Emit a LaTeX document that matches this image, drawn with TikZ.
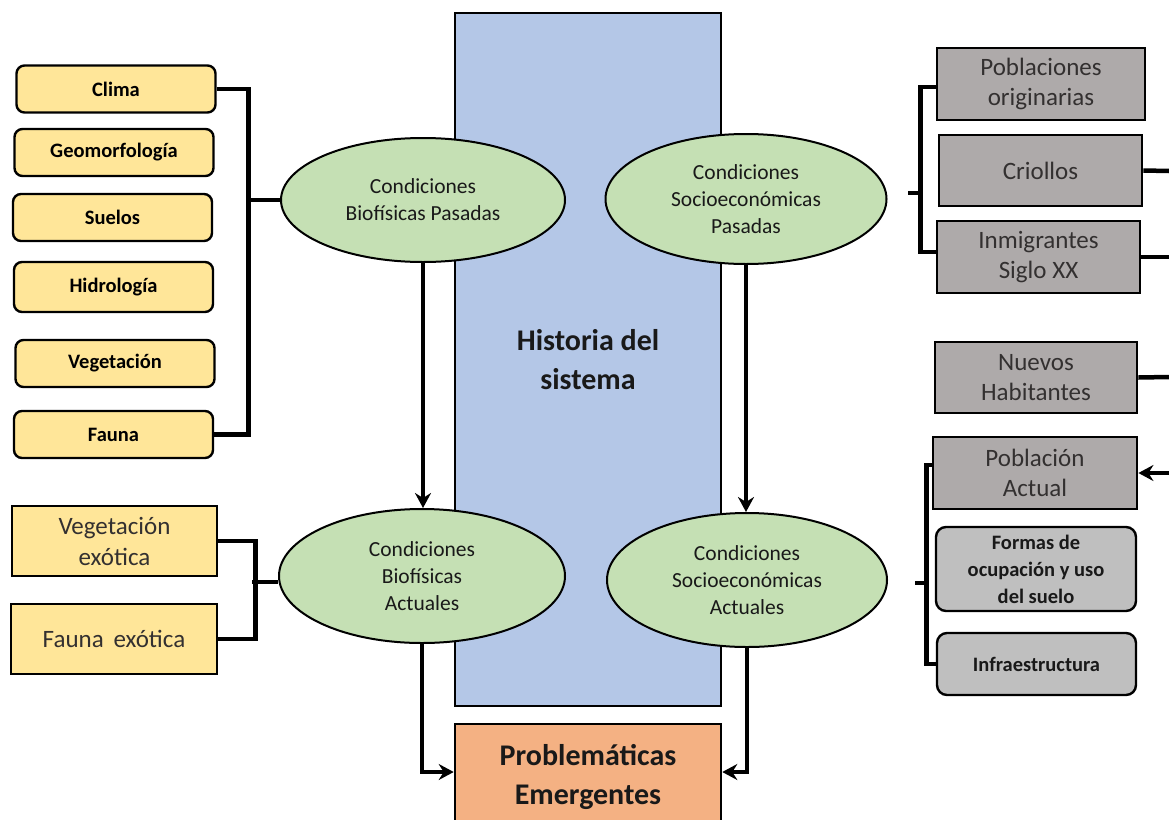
\documentclass[tikz,border=0pt]{standalone}
\usepackage{fontspec}
\setmainfont{Carlito}
\usetikzlibrary{shapes.geometric,arrows.meta}
\definecolor{yel}{HTML}{FFE699}
\definecolor{grn}{HTML}{C5E0B4}
\definecolor{blu}{HTML}{B4C7E7}
\definecolor{org}{HTML}{F4B183}
\definecolor{gryd}{HTML}{AEAAAA}
\definecolor{gryl}{HTML}{BFBFBF}
\definecolor{txtg}{HTML}{333030}
\begin{document}
\begin{tikzpicture}[x=1pt,y=-1pt,
  ybox/.style={draw, line width=2.4pt, fill=yel, rounded corners=8pt, inner sep=0pt,
    minimum width=199pt, minimum height=47pt, font=\fontsize{20.5}{24}\selectfont\bfseries},
  ybig/.style={draw, line width=2.6pt, fill=yel, inner sep=0pt, align=center,
    minimum height=70pt, font=\fontsize{25}{31}\selectfont, text=txtg},
  cond/.style={ellipse, draw, line width=2pt, fill=grn, inner sep=0pt, align=center,
    font=\fontsize{21.5}{27}\selectfont, text=black!90},
  gbox/.style={draw, line width=2.8pt, fill=gryd, inner sep=0pt, align=center,
    minimum height=72pt, font=\fontsize{25}{30}\selectfont, text=txtg},
  gr/.style={draw, line width=2.4pt, fill=gryl, rounded corners=10pt, inner sep=0pt, align=center,
    minimum width=200pt, font=\fontsize{20.5}{27}\selectfont\bfseries, text=black!90},
  bigbox/.style={draw, line width=2.6pt, inner sep=0pt, align=center, minimum width=266pt,
    font=\fontsize{30}{39}\selectfont\bfseries, text=black!90},
  link/.style={line width=4.5pt},
  arr/.style={line width=4pt, -{Stealth[length=15pt,width=16pt,inset=5pt]}}]

\clip (0,0) rectangle (1169,819);
\useasboundingbox (0,0) rectangle (1169,819);

% central column
\node[bigbox, fill=blu, minimum height=693pt] (hist) at (588,359.5) {Historia del\\sistema};
\node[bigbox, fill=org, minimum height=106pt] (prob) at (588,777) {Problemáticas\\Emergentes};

% conditions
\node[cond, minimum width=284pt, minimum height=124pt] (bp) at (423,200) {Condiciones\\Biofísicas Pasadas};
\node[cond, minimum width=281pt, minimum height=130pt] (sp) at (746,199) {Condiciones\\Socioeconómicas\\Pasadas};
\node[cond, minimum width=286pt, minimum height=134pt] (ba) at (422,576) {Condiciones\\Biofísicas\\Actuales};
\node[cond, minimum width=280pt, minimum height=134pt] (sa) at (747,580) {Condiciones\\Socioeconómicas\\Actuales};

\draw[arr] (bp.south) -- (bp.south |- ba.north);
\draw[arr] (sp.south) -- (sp.south |- sa.north);
\draw[arr] (ba.south) |- ([yshift=5pt]prob.west);
\draw[arr] (sa.south) |- ([yshift=5pt]prob.east);

% past biophysical factors
\node[ybox] (clima) at (116,89) {Clima};
\node[ybox] (geo) at (114,152.5) {Geomorfología};
\node[ybox] (suelos) at (112.5,217.5) {Suelos};
\node[ybox, minimum height=50pt] (hidro) at (113.5,287) {Hidrología};
\node[ybox] (veg) at (115,363.5) {Vegetación};
\node[ybox] (fauna) at (113.5,434.5) {Fauna};
\draw[link] (clima.east) -- ++(32,0) |- (fauna.east);
\draw[link] (bp.west) -- ++(-34,0);

% current biophysical factors
\node[ybig, minimum width=205pt] (vegex) at (114.5,541) {Vegetación\\exótica};
\node[ybig, minimum width=206pt] (faunex) at (114,639) {Fauna\, exótica};
\draw[link] (vegex.east) -- ++(37,0) |- (faunex.east);
\draw[link] ([yshift=-6pt]ba.west) -- ++(-26,0);

% past population
\node[gbox, minimum width=208pt] (pobo) at (1041,84) {Poblaciones\\originarias};
\node[gbox, minimum width=203pt, minimum height=71pt] (crio) at (1040.5,170.5) {Criollos};
\node[gbox, minimum width=203pt] (inmi) at (1038.5,257) {Inmigrantes\\Siglo XX};
\draw[link] ([yshift=-3pt]pobo.west) -- ++(-15,0) |- ([yshift=5pt]inmi.west);
\coordinate (rt) at (922,193);
\draw[link] (rt) -- ++(-14,0);

% current population
\node[gbox, minimum width=202pt, minimum height=71pt] (nuev) at (1036,377.5) {Nuevos\\Habitantes};
\node[gbox, minimum width=204pt] (pact) at (1035,473) {Población\\Actual};
\node[gr, minimum height=84pt] (formas) at (1036,569) {Formas de\\ocupación y uso\\del suelo};
\node[gr, minimum width=199pt, minimum height=62pt] (infra) at (1036.5,664) {Infraestructura};
\draw[link] ([yshift=8pt]pact.west) -- ++(-5,0) |- (infra.west);
\coordinate (rb) at (928,583);
\draw[link] (rb) -- ++(-13,0);

% links leaving the right edge
\coordinate (e1) at (1169,171);
\coordinate (e2) at (1169,257);
\coordinate (e3) at (1169,377);
\coordinate (e4) at (1169,473);
\draw[link] (crio.east) -- (e1);
\draw[link] (inmi.east) -- (e2);
\draw[link] (nuev.east) -- (e3);
\draw[arr] (e4) -- (pact.east);
\end{tikzpicture}
\end{document}
